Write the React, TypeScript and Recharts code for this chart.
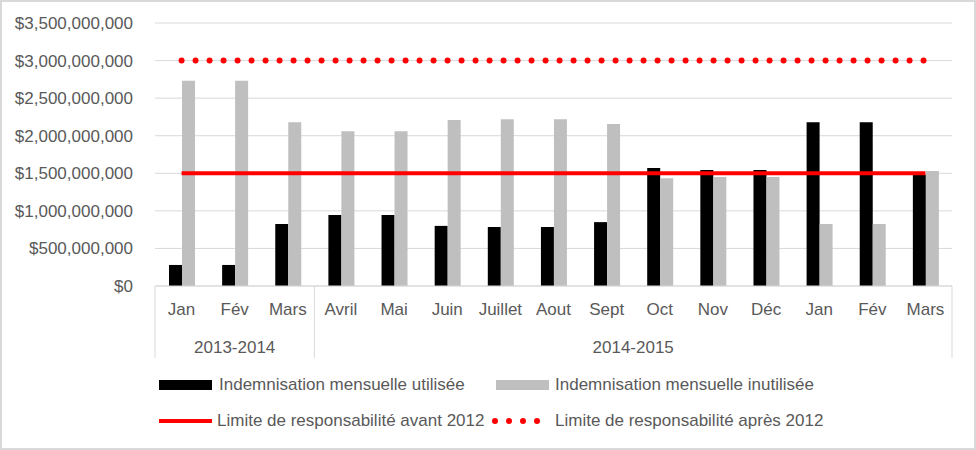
import { ComposedChart, Bar, Line, XAxis, YAxis, CartesianGrid } from 'recharts';

const MONTHS = ['Jan', 'Fév', 'Mars', 'Avril', 'Mai', 'Juin', 'Juillet', 'Aout', 'Sept', 'Oct', 'Nov', 'Déc', 'Jan', 'Fév', 'Mars'];
const USED = [280e6, 280e6, 825e6, 945e6, 945e6, 800e6, 785e6, 785e6, 850e6, 1570e6, 1545e6, 1545e6, 2180e6, 2180e6, 1480e6];
const UNUSED = [2730e6, 2730e6, 2180e6, 2060e6, 2060e6, 2210e6, 2220e6, 2220e6, 2155e6, 1435e6, 1450e6, 1450e6, 825e6, 825e6, 1530e6];
const LIMIT_BEFORE = 1.5e9;
const LIMIT_AFTER = 3e9;
const Y_TICKS = [0, 5e8, 1e9, 1.5e9, 2e9, 2.5e9, 3e9, 3.5e9];
const YEAR_GROUPS = [
  { label: '2013-2014', count: 3 },
  { label: '2014-2015', count: 12 },
];
const SERIES_NAMES = {
  used: 'Indemnisation mensuelle utilisée',
  unused: 'Indemnisation mensuelle inutilisée',
  before: 'Limite de responsabilité avant 2012',
  after: 'Limite de responsabilité après 2012',
};

const W = 976;
const H = 450;
const Y_AXIS_W = 155;
const RIGHT = 24;
const AXIS_H = 36;
const TEXT = '#595959';
const GRID = '#d9d9d9';
const FONT = '"Liberation Sans", Arial, sans-serif';

const data = MONTHS.map((month, i) => ({
  month,
  used: USED[i],
  unused: UNUSED[i],
  before: LIMIT_BEFORE,
  after: LIMIT_AFTER,
}));

const fmtMoney = (v: number) => '$' + v.toLocaleString('en-US');

const YearTick = ({ x, y, index }: any) => {
  const band = (W - Y_AXIS_W - RIGHT) / MONTHS.length;
  let start = 0;
  const parts: any[] = [];
  YEAR_GROUPS.forEach((g, gi) => {
    if (index === start) {
      parts.push(
        <line key={'l' + gi} x1={x - band / 2} x2={x - band / 2} y1={y - AXIS_H} y2={y + AXIS_H} stroke={GRID} />
      );
      parts.push(
        <text key={'t' + gi} x={x + ((g.count - 1) / 2) * band} y={y + 25} dy="0.355em" textAnchor="middle" fill={TEXT} fontSize={17} fontFamily={FONT}>
          {g.label}
        </text>
      );
    }
    start += g.count;
  });
  if (index === MONTHS.length - 1) {
    parts.push(<line key="end" x1={x + band / 2} x2={x + band / 2} y1={y - AXIS_H} y2={y + AXIS_H} stroke={GRID} />);
  }
  return <g>{parts}</g>;
};

const Dots = () => (
  <svg width={48} height={8}>
    {[0, 1, 2, 3].map((i) => (
      <circle key={i} cx={3 + i * 14} cy={4} r={3} fill="#ff0000" />
    ))}
  </svg>
);

const legendText = { fontSize: 17, color: TEXT, fontFamily: FONT, whiteSpace: 'nowrap' as const };

export default function App() {
  return (
    <div style={{ position: 'relative', width: W, height: H, background: '#fff', fontFamily: FONT }}>
      <style>{'body{margin:0}'}</style>
      <ComposedChart
        width={W}
        height={H}
        data={data}
        margin={{ top: 23, right: RIGHT, left: 0, bottom: 92 }}
        barGap={0}
        barSize={13}
      >
        <CartesianGrid vertical={false} stroke={GRID} xAxisId="m" />
        <YAxis
          width={Y_AXIS_W}
          domain={[0, 3.5e9]}
          ticks={Y_TICKS}
          tickFormatter={fmtMoney}
          axisLine={false}
          tickLine={false}
          tickSize={0}
          tickMargin={22}
          tick={{ fill: TEXT, fontSize: 17, fontFamily: FONT }}
        />
        <XAxis
          xAxisId="m"
          dataKey="month"
          interval={0}
          height={AXIS_H}
          tickLine={false}
          tickSize={0}
          tickMargin={17}
          axisLine={{ stroke: GRID }}
          tick={{ fill: TEXT, fontSize: 17, fontFamily: FONT }}
        />
        <XAxis
          xAxisId="y"
          dataKey="month"
          interval={0}
          height={AXIS_H}
          tickLine={false}
          tickSize={0}
          tickMargin={0}
          axisLine={false}
          tick={<YearTick />}
        />
        <Bar xAxisId="m" dataKey="used" name={SERIES_NAMES.used} fill="#000000" isAnimationActive={false} />
        <Bar xAxisId="m" dataKey="unused" name={SERIES_NAMES.unused} fill="#bfbfbf" isAnimationActive={false} />
        <Line xAxisId="m" dataKey="before" name={SERIES_NAMES.before} stroke="#ff0000" strokeWidth={4} dot={false} isAnimationActive={false} />
        <Line
          xAxisId="m"
          dataKey="after"
          name={SERIES_NAMES.after}
          stroke="#ff0000"
          strokeWidth={6}
          strokeDasharray="0 14"
          strokeLinecap="round"
          dot={false}
          isAnimationActive={false}
        />
      </ComposedChart>

      {/* legend, two rows like the Excel original */}
      <div style={{ position: 'absolute', left: 159, top: 376, display: 'flex', alignItems: 'center', height: 18 }}>
        <div style={{ width: 53, height: 10, background: '#000' }} />
        <span style={{ ...legendText, marginLeft: 7 }}>{SERIES_NAMES.used}</span>
      </div>
      <div style={{ position: 'absolute', left: 496, top: 376, display: 'flex', alignItems: 'center', height: 18 }}>
        <div style={{ width: 53, height: 10, background: '#bfbfbf' }} />
        <span style={{ ...legendText, marginLeft: 6 }}>{SERIES_NAMES.unused}</span>
      </div>
      <div style={{ position: 'absolute', left: 159, top: 412, display: 'flex', alignItems: 'center', height: 18 }}>
        <div style={{ width: 53, height: 4, background: '#ff0000' }} />
        <span style={{ ...legendText, marginLeft: 5 }}>{SERIES_NAMES.before}</span>
      </div>
      <div style={{ position: 'absolute', left: 492, top: 412, display: 'flex', alignItems: 'center', height: 18 }}>
        <Dots />
        <span style={{ ...legendText, marginLeft: 15 }}>{SERIES_NAMES.after}</span>
      </div>

      <div style={{ position: 'absolute', inset: 0, border: `2px solid ${GRID}`, pointerEvents: 'none' }} />
    </div>
  );
}
